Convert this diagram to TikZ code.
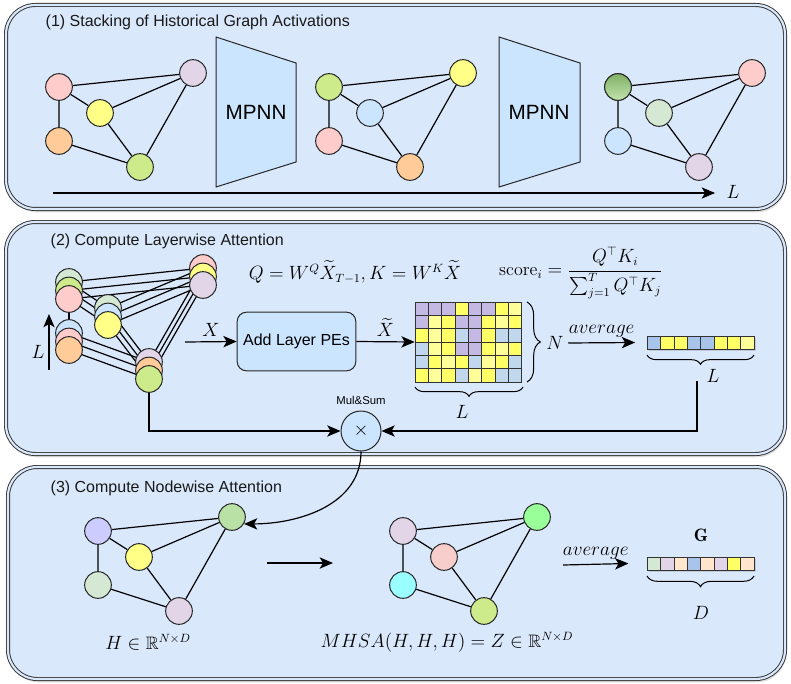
\documentclass[tikz,border=0pt]{standalone}
\usepackage{amsmath,amssymb}
\usepackage{fontspec}
\newfontfamily\arialfont{Liberation Sans}
\usetikzlibrary{arrows.meta,decorations.pathreplacing,shadows}
\definecolor{panelblue}{HTML}{DAE8FC}
\definecolor{boxblue}{HTML}{CCE5FF}
\definecolor{npink}{HTML}{FFCCCC}
\definecolor{nyellow}{HTML}{FFFF88}
\definecolor{norange}{HTML}{FFCC99}
\definecolor{nlime}{HTML}{CDEB8B}
\definecolor{nlilac}{HTML}{E1D5E7}
\definecolor{nblue}{HTML}{CCE5FF}
\definecolor{ngreen}{HTML}{D5E8D4}
\definecolor{ndark}{HTML}{97D077}
\definecolor{nlav}{HTML}{CCCCFF}
\definecolor{nsage}{HTML}{B9E0A5}
\definecolor{ncyan}{HTML}{99FFFF}
\definecolor{nmint}{HTML}{99FF99}
\definecolor{nrose}{HTML}{F8CECC}
\definecolor{npeach}{HTML}{FFE6CC}
\definecolor{mpur}{HTML}{C3B9E2}
\definecolor{myel}{HTML}{FFFF66}
\definecolor{mlye}{HTML}{FFFF99}
\definecolor{mblu}{HTML}{C0D7EE}
\definecolor{vblu}{HTML}{A9C4EB}

\begin{document}
\begin{tikzpicture}[x=0.75pt,y=-0.75pt,>={Stealth[length=10pt,width=8.5pt,inset=2.5pt]},
panel/.style={draw=black!80,line width=0.7pt,double=panelblue,double distance=1.6pt,fill=panelblue,rounded corners=22pt,drop shadow={shadow xshift=1pt,shadow yshift=-2.5pt,opacity=0.25}},
title/.style={font=\arialfont\fontsize{12}{14}\selectfont,text=black!90,anchor=west},
circ/.style={circle,draw=black!85,line width=0.75pt,minimum size=20pt,inner sep=0pt},
edge/.style={line width=0.9pt},
flow/.style={->,line width=0.9pt},
mth/.style={font=\fontsize{13.5}{16}\selectfont},
trap/.style={draw=black!85,line width=0.75pt,fill=boxblue},
cell/.style={draw=black!80,line width=0.6pt,minimum width=10pt,minimum height=10pt,inner sep=0pt},
brc/.style={decorate,decoration={brace,amplitude=#1},line width=0.75pt}]
\useasboundingbox (0,0) rectangle (791,684);
\draw[panel] (6,5) rectangle (785,209);
\draw[panel] (6,222) rectangle (785,454);
\draw[panel] (8,467) rectangle (785,679);
\node[title] (t1) at (41,22) {(1) Stacking of Historical Graph Activations};
\node[title] (t2) at (46,241) {(2) Compute Layerwise Attention};
\node[title] (t3) at (46,488) {(3) Compute Nodewise Attention};

\foreach \g/\gx/\gy/\ca/\cb/\cc/\cd/\ce in {a/59/87/npink/nyellow/norange/nlime/nlilac,
  b/329/87/nlime/nblue/npink/norange/nyellow, c/618/87/ndark/ngreen/nblue/nlilac/npink,
  d/98/531/nlav/nyellow/ngreen/nlilac/nsage, e/403/531/nlilac/nrose/ncyan/nlime/nmint}{
  \node[circ,fill=\ca] (\g1) at (\gx,\gy) {};
  \node[circ,fill=\cb] (\g2) at (\gx+41,\gy+26) {};
  \node[circ,fill=\cc] (\g3) at (\gx,\gy+54) {};
  \node[circ,fill=\cd] (\g4) at (\gx+81,\gy+80) {};
  \node[circ,fill=\ce] (\g5) at (\gx+134,\gy-14) {};
  \draw[edge] (\g1)--(\g5) (\g1)--(\g2) (\g1)--(\g3) (\g2)--(\g5) (\g2)--(\g4) (\g3)--(\g4) (\g4)--(\g5);
}
\node[circ,top color=ndark!85!black,bottom color=ndark!60] at (c1) {};
\draw[trap] (216,37)--(296,63)--(296,162)--(216,187)--cycle;
\draw[trap] (499,37)--(580,63)--(580,162)--(499,187)--cycle;
\node[font=\arialfont\fontsize{15.5}{18}\selectfont] (mp1) at (256,112) {MPNN};
\node[font=\arialfont\fontsize{15.5}{18}\selectfont] (mp2) at (539,112) {MPNN};
\coordinate (ax0) at (53,193);
\coordinate (ax1) at (715,193);
\draw[flow] (ax0)--(ax1);
\node[mth] (axl) at (733,192) {$L$};

\foreach \k/\dy in {3/-17,2/-8.5,1/0}{
  \coordinate (s1-\k) at (69,299+\dy);
  \coordinate (s2-\k) at (108,325+\dy);
  \coordinate (s3-\k) at (69,350+\dy);
  \coordinate (s4-\k) at (149,379+\dy);
  \coordinate (s5-\k) at (203,285+\dy);
  \draw[edge] (s1-\k)--(s5-\k) (s1-\k)--(s2-\k) (s1-\k)--(s3-\k) (s2-\k)--(s5-\k) (s2-\k)--(s4-\k) (s3-\k)--(s4-\k) (s4-\k)--(s5-\k);
}
\foreach \k/\ca/\cb/\cc/\cd/\ce in {3/ngreen/ngreen/nblue/nlilac/npink,
  2/nlime/nblue/npink/norange/nyellow, 1/npink/nyellow/norange/nlime/nlilac}{
  \node[circ,fill=\ca] (u1-\k) at (s1-\k) {};
  \node[circ,fill=\cb] (u2-\k) at (s2-\k) {};
  \node[circ,fill=\cc] (u3-\k) at (s3-\k) {};
  \node[circ,fill=\cd] (u4-\k) at (s4-\k) {};
  \node[circ,fill=\ce] (u5-\k) at (s5-\k) {};
}
\coordinate (la0) at (49,370);
\coordinate (la1) at (49,314);
\draw[flow] (la0)--(la1);
\node[mth] (lal) at (38,352) {$L$};

\node[mth] (fq) at (355,272) {$Q = W^Q \widetilde{X}_{T-1}, K = W^K \widetilde{X}$};
\node[mth] (fs) at (581,273) {$\mathrm{score}_i = \dfrac{Q^\top K_i}{\sum_{j=1}^{T} Q^\top K_j}$};

\node[draw=black!85,line width=0.75pt,fill=boxblue,rounded corners=7pt,minimum width=89pt,minimum height=44pt,font=\arialfont\fontsize{12}{14}\selectfont] (pe) at (296.5,341.5) {Add Layer PEs};
\coordinate (xin) at (185,342);
\draw[flow] (xin)--(pe.west) node[midway,above,mth] {$X$};

\node[minimum width=80pt,minimum height=60pt,inner sep=0pt] (mat) at (468.3,342) {};
\foreach \row [count=\r] in {{mpur,mpur,mpur,myel,mpur,mpur,myel,mlye},{mpur,mlye,myel,mpur,mpur,myel,mlye,myel},
  {myel,mlye,myel,mblu,mpur,myel,mblu,mblu},{mblu,mlye,myel,mpur,mpur,myel,mlye,myel},
  {mblu,myel,mlye,myel,mblu,mlye,myel,mblu},{myel,mlye,myel,mblu,mlye,myel,mblu,mblu}}
  \foreach \cc [count=\c] in \row
    \node[cell,fill=\cc] (m\r\c) at (415+13.33*\c-6.67,302+13.33*\r-6.67) {};
\draw[flow] (pe.east)--(mat.west) node[midway,above,mth] {$\widetilde{X}$};
\draw[brc=7pt] (523,387)--(415,387);
\node[mth] (ml) at (462,412) {$L$};
\draw[brc=10pt] (527,302)--(527,382);
\node[mth] (nl) at (555,343) {$N$};

\node[minimum width=80pt,minimum height=9.75pt,inner sep=0pt,fill=vblu,drop shadow={shadow xshift=1.5pt,shadow yshift=-1.5pt,opacity=0.3}] (vec) at (700.7,342.5) {};
\foreach \cc [count=\c] in {vblu,myel,myel,vblu,vblu,myel,myel,mlye}
  \node[cell,minimum height=9.75pt,fill=\cc] (v\c) at (647.3+13.33*\c-6.67,342.5) {};
\draw[flow] (nl.east)--([xshift=-9pt]vec.west) node[midway,above,mth] {$average$};
\draw[brc=7pt] (754,355)--(647,355);
\node[mth] (vl) at (713,376) {$L$};
\coordinate (vtip) at (697,381);

\node[circle,draw=black!85,line width=0.75pt,fill=boxblue,minimum size=30pt,inner sep=0pt,font=\fontsize{13.5}{16}\selectfont,
  label={[font=\arialfont\fontsize{8.5}{10}\selectfont,label distance=1pt]above:Mul\&Sum}] (mul) at (361,431) {$\times$};
\draw[flow] (u4-1.south) |- (mul.west);
\draw[flow] (vtip) |- (mul.east);
\draw[flow] (mul.south) to[out=-90,in=0] (d5.-30);

\node[mth] (hl) at (148,642) {$H \in \mathbb{R}^{N\times D}$};
\node[mth] (zl) at (447,642) {$MHSA(H,H,H) = Z \in \mathbb{R}^{N\times D}$};
\coordinate (de0) at (267,563);
\coordinate (de1) at (333,563);
\draw[flow] (de0)--(de1);
\coordinate (ga0) at (563,565);
\node[minimum width=80pt,minimum height=9.75pt,inner sep=0pt,fill=npeach,drop shadow={shadow xshift=1.5pt,shadow yshift=-1.5pt,opacity=0.3}] (gvec) at (700.7,563.5) {};
\foreach \cc [count=\c] in {ngreen,nlilac,npeach,vblu,npeach,nlilac,myel,npeach}
  \node[cell,minimum height=9.75pt,fill=\cc] (g\c) at (647.3+13.33*\c-6.67,563.5) {};
\draw[flow] (ga0)--([xshift=-14pt]gvec.west) node[midway,above,mth] {$average$};
\node[mth] (gl) at (701,535) {$\mathbf{G}$};
\draw[brc=8pt] (754,576)--(647,576);
\node[mth] (dl) at (701,613) {$D$};
\end{tikzpicture}
\end{document}
